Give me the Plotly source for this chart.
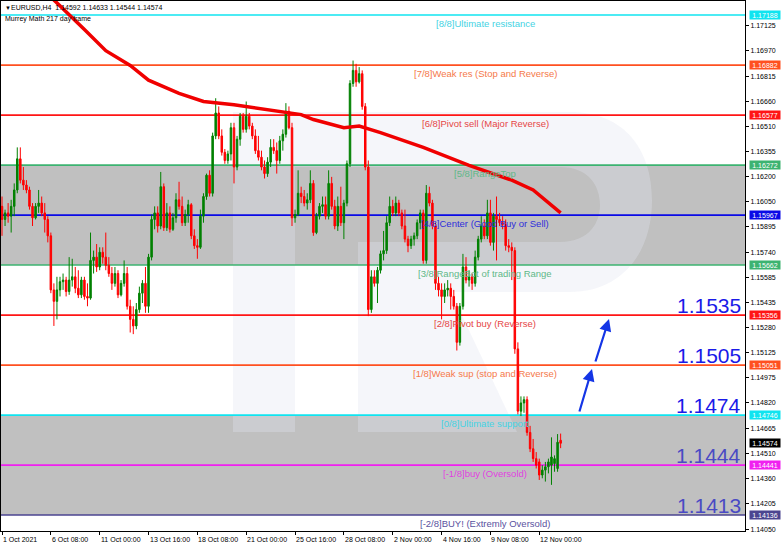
import plotly.graph_objects as go

# ---------------- data ----------------
bar_index = list(range(184))

opens = [
    1.1602, 1.1594, 1.1598, 1.1596, 1.1602, 1.1612, 1.1631, 1.1618, 1.1615, 1.1612,
    1.1602, 1.1595, 1.1602, 1.1604, 1.1598, 1.1594, 1.1584, 1.1551, 1.1544, 1.1551,
    1.1556, 1.1557, 1.1550, 1.1557, 1.1559, 1.1552, 1.1548, 1.1557, 1.1547, 1.1546,
    1.1569, 1.1571, 1.1565, 1.1574, 1.1571, 1.1566, 1.1561, 1.1555, 1.1561, 1.1548,
    1.1555, 1.1561, 1.1541, 1.1533, 1.1529, 1.1539, 1.1549, 1.1555, 1.1541, 1.1571,
    1.1594, 1.1598, 1.1590, 1.1614, 1.1589, 1.1598, 1.1588, 1.1595, 1.1606, 1.1602,
    1.1592, 1.1597, 1.1603, 1.1584, 1.1578, 1.1577, 1.1596, 1.1608, 1.1621, 1.1610,
    1.1645, 1.1659, 1.1645, 1.1635, 1.1630, 1.1634, 1.1650, 1.1626, 1.1643, 1.1657,
    1.1649, 1.1657, 1.1651, 1.1645, 1.1636, 1.1632, 1.1626, 1.1622, 1.1629, 1.1638,
    1.1636, 1.1630, 1.1642, 1.1646, 1.1660, 1.1650, 1.1595, 1.1597, 1.1610, 1.1608,
    1.1604, 1.1606, 1.1616, 1.1586, 1.1596, 1.1602, 1.1603, 1.1596, 1.1616, 1.1602,
    1.1590, 1.1602, 1.1592, 1.1604, 1.1628, 1.1677, 1.1685, 1.1678, 1.1683, 1.1663,
    1.1626, 1.1539, 1.1559, 1.1555, 1.1563, 1.1573, 1.1575, 1.1592, 1.1602, 1.1598,
    1.1604, 1.1598, 1.1590, 1.1582, 1.1578, 1.1582, 1.1584, 1.1592, 1.1598, 1.1569,
    1.1610, 1.1604, 1.1590, 1.1555, 1.1551, 1.1547, 1.1551, 1.1552, 1.1547, 1.1541,
    1.1519, 1.1541, 1.1565, 1.1557, 1.1559, 1.1555, 1.1571, 1.1582, 1.1590, 1.1584,
    1.1598, 1.1580, 1.1596, 1.1594, 1.1592, 1.1591, 1.1578, 1.1577, 1.1575, 1.1515,
    1.1477, 1.1482, 1.1484, 1.1464, 1.1454, 1.1448, 1.1446, 1.1438, 1.1441, 1.1443,
    1.1444, 1.1445, 1.1442, 1.14592,
]
highs = [
    1.1608, 1.1600, 1.1604, 1.1606, 1.1616, 1.1638, 1.1638, 1.1626, 1.1618, 1.1614,
    1.1604, 1.1604, 1.1612, 1.1608, 1.1604, 1.1596, 1.1586, 1.1555, 1.1559, 1.1559,
    1.1561, 1.1559, 1.1571, 1.1570, 1.1565, 1.1563, 1.1559, 1.1559, 1.1555, 1.1586,
    1.1575, 1.1579, 1.1577, 1.1577, 1.1586, 1.1571, 1.1565, 1.1565, 1.1563, 1.1557,
    1.1569, 1.1565, 1.1545, 1.1541, 1.1543, 1.1553, 1.1557, 1.1565, 1.1573, 1.1597,
    1.1602, 1.1602, 1.1623, 1.1616, 1.1604, 1.1602, 1.1598, 1.1610, 1.1617, 1.1608,
    1.1600, 1.1606, 1.1604, 1.1588, 1.1582, 1.1600, 1.1610, 1.1622, 1.1624, 1.1647,
    1.1668, 1.1663, 1.1649, 1.1637, 1.1636, 1.1653, 1.1653, 1.1645, 1.1659, 1.1659,
    1.1666, 1.1659, 1.1653, 1.1649, 1.1645, 1.1636, 1.1630, 1.1632, 1.1643, 1.1643,
    1.1641, 1.1645, 1.1649, 1.1665, 1.1663, 1.1653, 1.1600, 1.1624, 1.1614, 1.1612,
    1.1610, 1.1624, 1.1618, 1.1598, 1.1604, 1.1608, 1.1608, 1.1624, 1.1620, 1.1606,
    1.1608, 1.1614, 1.1606, 1.1630, 1.1679, 1.1691, 1.1689, 1.1687, 1.1685, 1.1665,
    1.1630, 1.1563, 1.1563, 1.1565, 1.1575, 1.1587, 1.1596, 1.1608, 1.1606, 1.1608,
    1.1606, 1.1600, 1.1600, 1.1584, 1.1584, 1.1586, 1.1594, 1.1600, 1.1600, 1.1615,
    1.1614, 1.1606, 1.1592, 1.1559, 1.1555, 1.1555, 1.1557, 1.1555, 1.1551, 1.1543,
    1.1543, 1.1573, 1.1571, 1.1563, 1.1561, 1.1575, 1.1584, 1.1596, 1.1594, 1.1606,
    1.1606, 1.1598, 1.1608, 1.1598, 1.1596, 1.1594, 1.1582, 1.1580, 1.1577, 1.1519,
    1.1486, 1.1486, 1.1486, 1.1468, 1.1460, 1.1452, 1.1448, 1.1444, 1.1446, 1.1448,
    1.1461, 1.1450, 1.1463, 1.14633,
]
lows = [
    1.1584, 1.1590, 1.1592, 1.1586, 1.1596, 1.1610, 1.1616, 1.1612, 1.1610, 1.1600,
    1.1590, 1.1594, 1.1598, 1.1596, 1.1586, 1.1580, 1.1549, 1.1529, 1.1533, 1.1547,
    1.1551, 1.1547, 1.1548, 1.1553, 1.1549, 1.1546, 1.1546, 1.1545, 1.1541, 1.1545,
    1.1561, 1.1562, 1.1563, 1.1567, 1.1563, 1.1559, 1.1551, 1.1553, 1.1546, 1.1547,
    1.1553, 1.1539, 1.1525, 1.1524, 1.1527, 1.1537, 1.1543, 1.1537, 1.1537, 1.1569,
    1.1588, 1.1586, 1.1588, 1.1587, 1.1587, 1.1586, 1.1587, 1.1592, 1.1600, 1.1590,
    1.1590, 1.1592, 1.1582, 1.1576, 1.1570, 1.1576, 1.1592, 1.1606, 1.1608, 1.1608,
    1.1643, 1.1643, 1.1633, 1.1628, 1.1628, 1.1630, 1.1616, 1.1624, 1.1639, 1.1647,
    1.1647, 1.1649, 1.1643, 1.1634, 1.1630, 1.1624, 1.1619, 1.1620, 1.1626, 1.1634,
    1.1622, 1.1628, 1.1636, 1.1644, 1.1649, 1.1590, 1.1592, 1.1596, 1.1604, 1.1602,
    1.1600, 1.1604, 1.1584, 1.1585, 1.1594, 1.1598, 1.1594, 1.1594, 1.1600, 1.1588,
    1.1587, 1.1590, 1.1582, 1.1602, 1.1626, 1.1675, 1.1675, 1.1677, 1.1661, 1.1624,
    1.1535, 1.1537, 1.1553, 1.1543, 1.1561, 1.1569, 1.1573, 1.1590, 1.1596, 1.1596,
    1.1596, 1.1588, 1.1580, 1.1574, 1.1576, 1.1578, 1.1582, 1.1588, 1.1567, 1.1567,
    1.1602, 1.1588, 1.1551, 1.1547, 1.1533, 1.1543, 1.1547, 1.1539, 1.1539, 1.1514,
    1.1517, 1.1539, 1.1555, 1.1553, 1.1551, 1.1553, 1.1569, 1.1580, 1.1582, 1.1582,
    1.1578, 1.1575, 1.1569, 1.1590, 1.1588, 1.1575, 1.1574, 1.1557, 1.1512, 1.1475,
    1.1474, 1.1476, 1.1462, 1.1452, 1.1446, 1.1442, 1.1435, 1.1436, 1.1434, 1.1439,
    1.1432, 1.1440, 1.1440, 1.14544,
]
closes = [
    1.1594, 1.1598, 1.1596, 1.1602, 1.1612, 1.1631, 1.1618, 1.1615, 1.1612, 1.1602,
    1.1595, 1.1602, 1.1604, 1.1598, 1.1594, 1.1584, 1.1551, 1.1544, 1.1551, 1.1556,
    1.1557, 1.1550, 1.1557, 1.1559, 1.1552, 1.1548, 1.1557, 1.1547, 1.1546, 1.1569,
    1.1571, 1.1565, 1.1574, 1.1571, 1.1566, 1.1561, 1.1555, 1.1561, 1.1548, 1.1555,
    1.1561, 1.1541, 1.1533, 1.1529, 1.1539, 1.1549, 1.1555, 1.1541, 1.1571, 1.1594,
    1.1598, 1.1590, 1.1614, 1.1589, 1.1598, 1.1588, 1.1595, 1.1606, 1.1602, 1.1592,
    1.1597, 1.1603, 1.1584, 1.1578, 1.1577, 1.1596, 1.1608, 1.1621, 1.1610, 1.1645,
    1.1659, 1.1645, 1.1635, 1.1630, 1.1634, 1.1650, 1.1626, 1.1643, 1.1657, 1.1649,
    1.1657, 1.1651, 1.1645, 1.1636, 1.1632, 1.1626, 1.1622, 1.1629, 1.1638, 1.1636,
    1.1630, 1.1642, 1.1646, 1.1660, 1.1650, 1.1595, 1.1597, 1.1610, 1.1608, 1.1604,
    1.1606, 1.1616, 1.1586, 1.1596, 1.1602, 1.1603, 1.1596, 1.1616, 1.1602, 1.1590,
    1.1602, 1.1592, 1.1604, 1.1628, 1.1677, 1.1685, 1.1678, 1.1683, 1.1663, 1.1626,
    1.1539, 1.1559, 1.1555, 1.1563, 1.1573, 1.1575, 1.1592, 1.1602, 1.1598, 1.1604,
    1.1598, 1.1590, 1.1582, 1.1578, 1.1582, 1.1584, 1.1592, 1.1598, 1.1569, 1.1610,
    1.1604, 1.1590, 1.1555, 1.1551, 1.1547, 1.1551, 1.1552, 1.1547, 1.1541, 1.1519,
    1.1541, 1.1565, 1.1557, 1.1559, 1.1555, 1.1571, 1.1582, 1.1590, 1.1584, 1.1598,
    1.1580, 1.1596, 1.1594, 1.1592, 1.1591, 1.1578, 1.1577, 1.1575, 1.1515, 1.1477,
    1.1482, 1.1484, 1.1464, 1.1454, 1.1448, 1.1444, 1.1438, 1.1441, 1.1443, 1.1446,
    1.1449, 1.1448, 1.1458, 1.14574,
]

# 217-period moving average, read at selected bars
ma_index = [0, 17, 27, 34, 42, 48, 58, 66, 76, 87, 98, 102, 112, 117, 124, 138, 146, 153, 167, 174, 183]
ma_values = [1.1761, 1.1728, 1.1710, 1.1697, 1.1688, 1.1679, 1.1671, 1.1666, 1.1664, 1.1661, 1.1658,
             1.1655, 1.1650, 1.1651, 1.1647, 1.1638, 1.1632, 1.1627, 1.1618, 1.1612, 1.1598]

# Murrey Math levels
levels = [1.17188, 1.16882, 1.16577, 1.16272, 1.15967, 1.15662, 1.15356, 1.15051, 1.14746, 1.14441, 1.14136]
level_names = ["[8/8]Ultimate resistance", "[7/8]Weak res (Stop and Reverse)",
               "[6/8]Pivot sell (Major Reverse)", "[5/8]RangeTop",
               "[4/8]Center (Good Buy or Sell)", "[3/8]RangeBot of trading Range",
               "[2/8]Pivot buy (Reverse)", "[1/8]Weak sup (stop and Reverse)",
               "[0/8]Ultimate support", "[-1/8]buy (Oversold)", "[-2/8]BUY! (Extremly Oversold)"]
level_tags = ["1.17188", "1.16882", "1.16577", "1.16272", "1.15967", "1.15662",
              "1.15356", "1.15051", "1.14746", "1.14441", "1.14136"]

# target labels
target_levels = [1.15356, 1.15051, 1.14746, 1.14441, 1.14136]
target_texts = ["1.1535", "1.1505", "1.1474", "1.1444", "1.1413"]

# axis ticks
price_ticks = [1.17125, 1.16970, 1.16815, 1.16660, 1.16510, 1.16355, 1.16200, 1.16050, 1.15895,
               1.15740, 1.15585, 1.15435, 1.15280, 1.15125, 1.14975, 1.14820, 1.14665, 1.14510,
               1.14360, 1.14205, 1.14050]
date_tick_index = [0, 16, 32, 48, 64, 80, 96, 112, 128, 144, 160, 176]
date_tick_labels = ["1 Oct 2021", "6 Oct 08:00", "11 Oct 00:00", "13 Oct 16:00", "18 Oct 08:00",
                    "21 Oct 00:00", "25 Oct 16:00", "28 Oct 08:00", "2 Nov 00:00", "4 Nov 16:00",
                    "9 Nov 08:00", "12 Nov 00:00"]

current_price = 1.14574
header = "EURUSD,H4  1.14592 1.14633 1.14544 1.14574"
subheader = "Murrey Math 217 day frame"

# ---------------- styling ----------------
W, H = 782, 548
ML, MR, MT, MB = 1, 37, 1, 17
PW, PH = W - ML - MR, H - MT - MB
FONT = "Liberation Sans, Arial, sans-serif"


def px(x):
    return (x - ML) / PW


def py(y):
    return (H - MB - y) / PH


line_colors = ["#10E4F0", "#FF5020", "#FF1515", "#3CB371", "#0A0AE6", "#3CB371",
               "#FF1515", "#FF5020", "#10E4F0", "#F020F0", "#4B4590"]
text_colors = ["#45D3E3", "#F5794A", "#E64646", "#5FB888", "#2E2EDB", "#5FB888",
               "#E64646", "#F5794A", "#45D3E3", "#E040E0", "#5A52A0"]
target_colors = ["#1A1AE8", "#1A1AE8", "#1A1AE8", "#4A4AC4", "#4A4AC4"]

fig = go.Figure()

fig.add_trace(go.Candlestick(
    x=bar_index, open=opens, high=highs, low=lows, close=closes,
    increasing=dict(line=dict(color="#008000", width=1), fillcolor="#008000"),
    decreasing=dict(line=dict(color="#FF0000", width=1), fillcolor="#FF0000"),
    whiskerwidth=0, showlegend=False, hoverinfo="skip"))

fig.add_trace(go.Scatter(x=ma_index, y=ma_values, mode="lines",
                         line=dict(color="#F00000", width=3.5), showlegend=False, hoverinfo="skip"))

shapes = []
# gray range boxes
for lo, hi in [(levels[5], levels[3]), (levels[10], levels[8])]:
    shapes.append(dict(type="rect", xref="paper", yref="y", x0=0, x1=1, y0=lo, y1=hi,
                       fillcolor="#C0C0C0", line=dict(width=0), layer="below"))

# watermark "R"
wm = [("M", [(233, 112)]), ("L", [(570, 112)]),
      ("C", [(625, 112), (652, 150), (652, 200)]),
      ("C", [(652, 255), (620, 292), (570, 292)]),
      ("L", [(451, 292)]), ("L", [(517, 432)]), ("L", [(358, 432)]), ("L", [(358, 242)]),
      ("L", [(560, 242)]), ("C", [(590, 242), (600, 222), (600, 205)]),
      ("C", [(600, 185), (588, 167), (560, 167)]), ("L", [(295, 167)]),
      ("L", [(295, 432)]), ("L", [(233, 432)])]
path = ""
for cmd, pts in wm:
    path += cmd + " " + " ".join("%.5f,%.5f" % (px(a), py(b)) for a, b in pts) + " "
path += "Z"
shapes.append(dict(type="path", xref="paper", yref="paper", path=path,
                   fillcolor="rgba(225,230,240,0.34)", line=dict(width=0), layer="below"))

for lv, col in zip(levels, line_colors):
    shapes.append(dict(type="line", xref="paper", yref="y", x0=0, x1=1, y0=lv, y1=lv,
                       line=dict(color=col, width=1.7), layer="below"))

annotations = []
# level labels
for lv, name, col in zip(levels, level_names, text_colors):
    annotations.append(dict(x=px(485), xref="paper", y=lv, yref="y", text=name,
                            showarrow=False, xanchor="center", yanchor="top", yshift=-1,
                            font=dict(family=FONT, size=9.5, color=col)))
# right price tags
for lv, tag, col in zip(levels, level_tags, line_colors):
    annotations.append(dict(x=1, xref="paper", y=lv, yref="y", text=tag, showarrow=False,
                            xanchor="left", yanchor="middle", xshift=4, width=30, height=8,
                            bgcolor=col, borderpad=0,
                            font=dict(family=FONT, size=7, color="white")))
annotations.append(dict(x=1, xref="paper", y=current_price, yref="y", text="%.5f" % current_price,
                        showarrow=False, xanchor="left", yanchor="middle", xshift=4, width=30,
                        height=8, bgcolor="#000000", borderpad=0,
                        font=dict(family=FONT, size=7, color="white")))
# target numbers
for lv, txt, col in zip(target_levels, target_texts, target_colors):
    annotations.append(dict(x=px(743), xref="paper", y=lv, yref="y", text=txt, showarrow=False,
                            xanchor="right", yanchor="bottom", yshift=-4,
                            font=dict(family=FONT, size=21, color=col)))
# arrows
for (tx, ty), (hx, hy) in [((579, 413), (592, 369)), ((595, 363), (609, 319))]:
    annotations.append(dict(x=px(hx), y=py(hy), xref="paper", yref="paper", text="",
                            showarrow=True, ax=tx - hx, ay=ty - hy, arrowhead=2, arrowsize=1.1,
                            arrowwidth=2.2, arrowcolor="#1435E6"))
# date labels
for idx, lab in zip(date_tick_index, date_tick_labels):
    annotations.append(dict(x=idx, xref="x", y=py(539.5), yref="paper", text=lab,
                            showarrow=False, xanchor="left", yanchor="middle", xshift=-1,
                            font=dict(family=FONT, size=7, color="#000000")))
# header
annotations.append(dict(x=px(2.5), y=py(7.5), xref="paper", yref="paper", text="▼",
                        showarrow=False, xanchor="left", yanchor="middle",
                        font=dict(family=FONT, size=6, color="#000000")))
annotations.append(dict(x=px(9), y=py(7.5), xref="paper", yref="paper", text=header,
                        showarrow=False, xanchor="left", yanchor="middle",
                        font=dict(family=FONT, size=7, color="#000000")))
annotations.append(dict(x=px(3), y=py(18.5), xref="paper", yref="paper", text=subheader,
                        showarrow=False, xanchor="left", yanchor="middle",
                        font=dict(family=FONT, size=7, color="#000000")))

fig.update_layout(
    width=W, height=H, autosize=False,
    margin=dict(l=ML, r=MR, t=MT, b=MB, pad=0),
    paper_bgcolor="white", plot_bgcolor="white",
    shapes=shapes, annotations=annotations, showlegend=False,
    xaxis=dict(range=[-0.33, 243.4], rangeslider=dict(visible=False), showgrid=False,
               zeroline=False, tickvals=date_tick_index, ticks="outside", ticklen=3,
               tickcolor="#000", showticklabels=False, showline=True, mirror=True,
               linecolor="#000", linewidth=1),
    yaxis=dict(range=[1.140383, 1.172735], side="right", showgrid=False, zeroline=False,
               tickvals=price_ticks, ticktext=["%.5f" % v for v in price_ticks],
               ticks="outside", ticklen=3, tickcolor="#000",
               tickfont=dict(family=FONT, size=7, color="#000"),
               showline=True, mirror=True, linecolor="#000", linewidth=1),
)

fig.write_html("out.html", config={"displayModeBar": False},
               post_script="document.body.style.margin='0';document.body.style.padding='0';"
                           "document.body.style.overflow='hidden';")
